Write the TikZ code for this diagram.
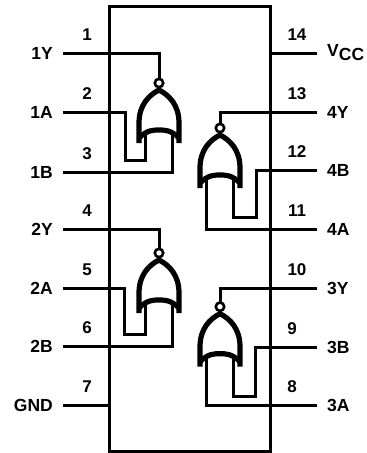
\documentclass[tikz,border=0pt]{standalone}
\usepackage{fontspec}
\setmainfont{Liberation Sans}
\begin{document}
\begin{tikzpicture}[x=1pt,y=-1pt]
      % Define styles
      \tikzset{
        wire/.style={black, line width=3pt},
        package/.style={black, line width=3pt},
        gatebody/.style={black, line width=5.2pt},
        pinlabel/.style={font=\fontsize{17.5}{19}\selectfont\bfseries, inner sep=0pt},
        pinnum/.style={font=\fontsize{17}{19}\selectfont\bfseries, inner sep=0pt},
        norgate/.pic={
          % back curve and the pointed front of the gate
          \draw[gatebody] (-20,60) -- (-20,40) .. controls (-20,22) and (-10,12) .. (0,7)
            .. controls (10,12) and (20,22) .. (20,40) -- (20,60);
          \draw[gatebody] (-20,55) .. controls (-12,47) and (-6,47) .. (0,47)
            .. controls (6,47) and (12,47) .. (20,55);
          % inversion bubble
          \draw[black, line width=2.6pt, fill=white] (0,0) circle (4.2);
          \coordinate (-out) at (0,-4.2);
          \coordinate (-a) at (-13.5,49);
          \coordinate (-b) at (13.5,49);
        }
      }
      \useasboundingbox (0,0) rectangle (367,453);
      % Package outline
      \draw[package] (109,6) rectangle (270,451);
      % Left pins
      \foreach \n/\lab/\y in {1/1Y/53,2/1A/112,3/1B/172,4/2Y/229,5/2A/288,6/2B/346,7/GND/405} {
        \coordinate (end\n) at (63,\y);
        \coordinate (edge\n) at (109,\y);
        \node[pinlabel, anchor=east] (lab\n) at (53,\y) {\lab};
        \node[pinnum] (num\n) at (87,\y-18) {\n};
      }
      % Right pins
      \foreach \n/\lab/\y/\xn in {14/{V\lower4pt\hbox{CC}}/53/297,13/4Y/112/297,12/4B/170/297,11/4A/229/297,10/3Y/288/297,9/3B/347/292,8/3A/405/292} {
        \coordinate (end\n) at (317,\y);
        \coordinate (edge\n) at (270,\y);
        \node[pinlabel, anchor=west] (lab\n) at (327,\y) {\lab};
        \node[pinnum] (num\n) at (\xn,\y-18) {\n};
      }
      % The four gates
      \pic (g1) at (159,83) {norgate};
      \pic (g2) at (159,253) {norgate};
      \pic (g4) at (220,128) {norgate};
      \pic (g3) at (220,306.7) {norgate};
      % Corners of the input loops
      \coordinate (bend1) at (125.5,160.5);
      \coordinate (bend2) at (124.5,334);
      \coordinate (bend4) at (256,217);
      \coordinate (bend3) at (255,396);
      % Wiring
      \draw[wire] (end1) -| (g1-out);
      \draw[wire] (end2) -| (bend1) -| (g1-a);
      \draw[wire] (end3) -| (g1-b);
      \draw[wire] (end4) -| (g2-out);
      \draw[wire] (end5) -| (bend2) -| (g2-a);
      \draw[wire] (end6) -| (g2-b);
      \draw[wire] (end7) -- (edge7);
      \draw[wire] (end14) -- (edge14);
      \draw[wire] (end13) -| (g4-out);
      \draw[wire] (end12) -| (bend4) -| (g4-b);
      \draw[wire] (end11) -| (g4-a);
      \draw[wire] (end10) -| (g3-out);
      \draw[wire] (end9) -| (bend3) -| (g3-b);
      \draw[wire] (end8) -| (g3-a);
    \end{tikzpicture}
\end{document}
